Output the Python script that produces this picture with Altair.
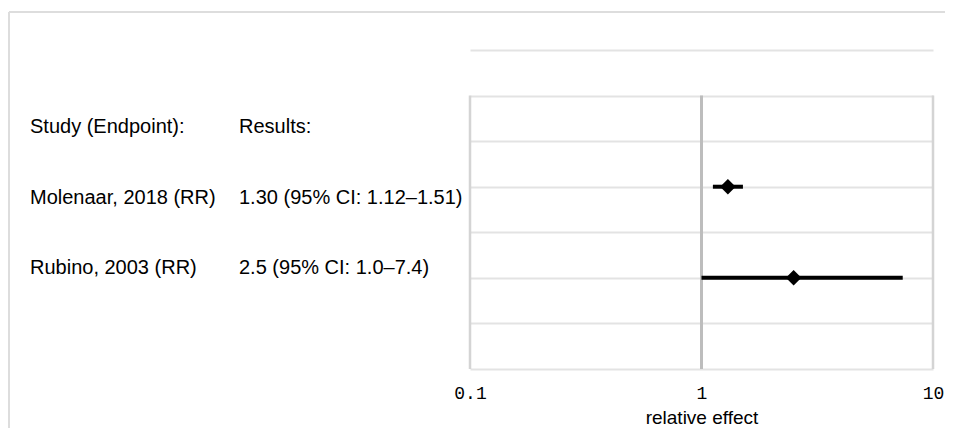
import altair as alt
import pandas as pd

# ---- data ----
studies = ["Molenaar, 2018 (RR)", "Rubino, 2003 (RR)"]
results = ["1.30 (95% CI: 1.12–1.51)", "2.5 (95% CI: 1.0–7.4)"]
estimate = [1.30, 2.5]
ci_low = [1.12, 1.0]
ci_high = [1.51, 7.4]
row_slot = [3, 5]
header = ["Study (Endpoint):", "Results:"]
x_ticks = [0.1, 1, 10]
ref_lines = [0.1, 1, 10]
grid_slots = list(range(8))

df = pd.DataFrame({"study": studies, "result": results, "est": estimate,
                   "lo": ci_low, "hi": ci_high, "slot": row_slot})
keys = ["header"] + studies
text_df = pd.DataFrame({"key": keys, "col1": [header[0]] + studies,
                        "col2": [header[1]] + results})
ref_df = pd.DataFrame({"x": ref_lines, "main": [r == 1 for r in ref_lines]})
one = pd.DataFrame({"a": [0]})

xscale = alt.Scale(type="log", domain=[0.1, 10], nice=False)
yscale = alt.Scale(domain=[0, 7], reverse=True, nice=False, zero=False)

xaxis = alt.Axis(values=x_ticks, format="~g", grid=False, domain=False, ticks=False,
                 tickSize=0, labelFlush=False, labelFont="Liberation Mono",
                 labelFontSize=18, labelColor="black", labelPadding=29,
                 labelBaseline="alphabetic", title="relative effect",
                 titleFont="Liberation Sans", titleFontSize=19, titleFontWeight="normal",
                 titleColor="black", titleY=54, titleBaseline="alphabetic")
yaxis = alt.Axis(values=grid_slots, grid=True, gridColor="#e3e3e3", gridWidth=2,
                 labels=False, ticks=False, domain=False, title=None)

refs = alt.Chart(ref_df).mark_rule().encode(
    x=alt.X("x:Q", scale=xscale, axis=xaxis),
    y=alt.Y(datum=1, scale=yscale, axis=yaxis),
    y2=alt.Y2(datum=7),
    color=alt.condition(alt.datum.main, alt.value("#bdbdbd"), alt.value("#d4d4d4")),
    strokeWidth=alt.condition(alt.datum.main, alt.value(3), alt.value(2.5)),
)

bars = alt.Chart(df).mark_rule(color="black", strokeWidth=4).encode(
    x=alt.X("lo:Q", scale=xscale, axis=xaxis),
    x2="hi:Q",
    y=alt.Y("slot:Q", scale=yscale, axis=yaxis),
)

points = alt.Chart(df).mark_point(shape="diamond", filled=True, size=240,
                                  color="black", opacity=1).encode(
    x=alt.X("est:Q", scale=xscale, axis=xaxis),
    y=alt.Y("slot:Q", scale=yscale, axis=yaxis),
)

inner = alt.layer(refs, bars, points)

tscale = alt.Scale(type="point", domain=keys, range=[83, 224], padding=0)
text1 = alt.Chart(text_df).mark_text(align="left", baseline="alphabetic",
                                     font="Liberation Sans", fontSize=20,
                                     color="black").encode(
    x=alt.value(-440),
    y=alt.Y("key:N", scale=tscale, axis=None),
    text="col1:N",
)
text2 = alt.Chart(text_df).mark_text(align="left", baseline="alphabetic",
                                     font="Liberation Sans", fontSize=20,
                                     color="black").encode(
    x=alt.value(-231),
    y=alt.Y("key:N", scale=tscale, axis=None),
    text="col2:N",
)

frame_top = alt.Chart(one).mark_rule(color="#dddddd", strokeWidth=2).encode(
    x=alt.value(-461), x2=alt.value(490), y=alt.value(-38))
frame_left = alt.Chart(one).mark_rule(color="#dddddd", strokeWidth=2).encode(
    x=alt.value(-461), y=alt.value(-38), y2=alt.value(420))

chart = alt.layer(frame_top, frame_left, inner, text1, text2).resolve_scale(
    y="independent"
).properties(
    width=463, height=319,
    autosize=alt.AutoSizeParams(type="none"),
    padding={"left": 462, "top": 42, "right": 12, "bottom": 59},
).configure_view(stroke=None)

chart.save("out.html", embed_options={"renderer": "svg", "actions": False})
